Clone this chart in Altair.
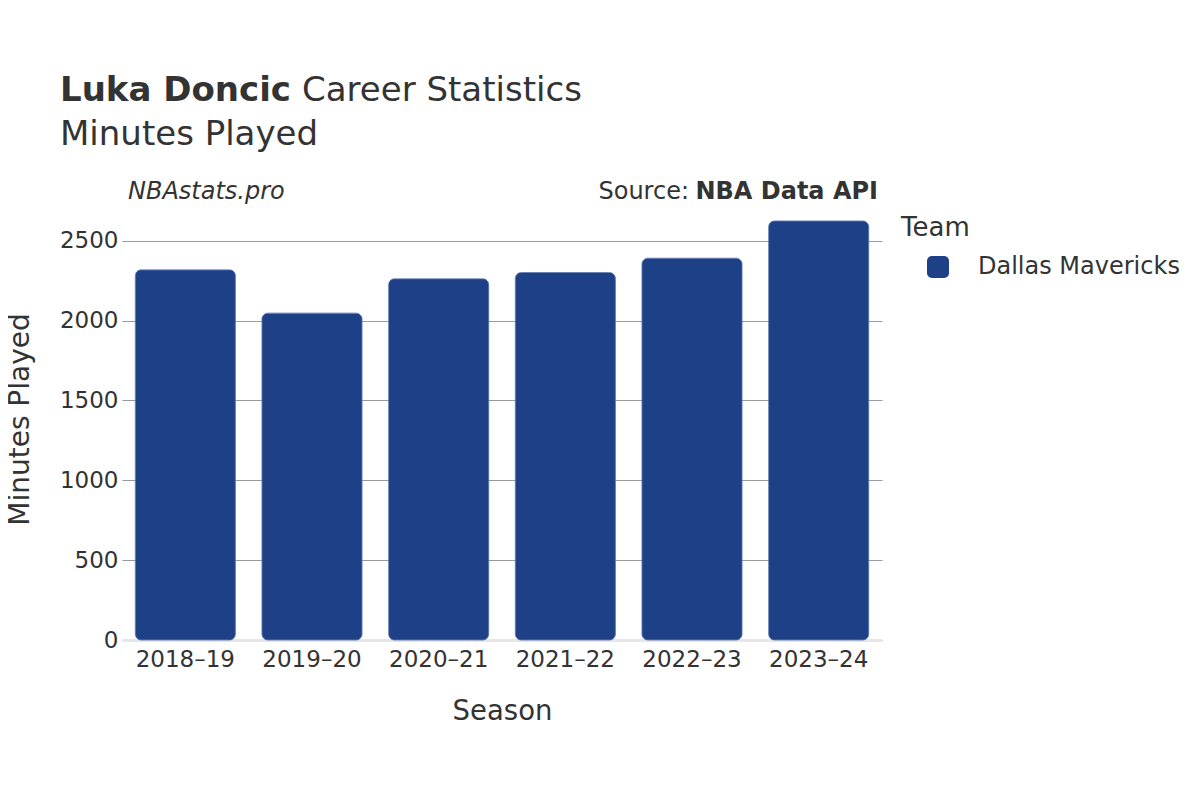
import altair as alt
import pandas as pd

seasons = ["2018–19", "2019–20", "2020–21", "2021–22", "2022–23", "2023–24"]
minutes = [2318, 2047, 2262, 2301, 2391, 2624]
teams = ["Dallas Mavericks"] * 6
team_domain = ["Dallas Mavericks"]
team_colors = ["#1d4087"]

df = pd.DataFrame({"Season": seasons, "Minutes": minutes, "Team": teams})

FONT = "DejaVu Sans"
TXT = "#333333"
W, H = 760, 442
YMAX = 2768

rounded = ("M -0.55,-1 L 0.55,-1 A 0.45 0.45 0 0 1 1,-0.55 L 1,0.55 "
           "A 0.45 0.45 0 0 1 0.55,1 L -0.55,1 A 0.45 0.45 0 0 1 -1,0.55 "
           "L -1,-0.55 A 0.45 0.45 0 0 1 -0.55,-1 Z")

bars = alt.Chart(df).mark_bar(
    cornerRadius=6, stroke="#4d6aa6", strokeWidth=0.8
).encode(
    x=alt.X("Season:N", sort=seasons,
            scale=alt.Scale(paddingInner=0.21, paddingOuter=0.105),
            axis=alt.Axis(title="Season", labelAngle=0, labelFontSize=23,
                          labelColor=TXT, labelFont=FONT, labelPadding=8,
                          ticks=False, domain=True, domainColor="#e6e6e6",
                          domainWidth=3, titleFontSize=27.5, titleColor=TXT,
                          titleFont=FONT, titleFontWeight="normal",
                          titlePadding=26)),
    y=alt.Y("Minutes:Q",
            scale=alt.Scale(domain=[0, YMAX], nice=False),
            axis=alt.Axis(title="Minutes Played", values=[0, 500, 1000, 1500, 2000, 2500],
                          format="d",
                          labelFontSize=23, labelColor=TXT, labelFont=FONT,
                          labelPadding=4, ticks=False, domain=False,
                          grid=True, gridColor="#9a9a9a", gridWidth=1,
                          titleFontSize=28, titleColor=TXT, titleFont=FONT,
                          titleFontWeight="normal", titlePadding=25)),
    color=alt.Color("Team:N",
                    scale=alt.Scale(domain=team_domain, range=team_colors),
                    legend=alt.Legend(orient="none", legendX=779, legendY=17,
                                      title="Team", titleFontSize=26,
                                      titleColor=TXT, titleFont=FONT,
                                      titleFontWeight="normal", titlePadding=14,
                                      labelFontSize=24, labelColor=TXT,
                                      labelFont=FONT, labelLimit=400,
                                      symbolType=rounded,
                                      symbolSize=484, symbolOffset=25,
                                      labelOffset=28, symbolStrokeWidth=0,
                                      padding=0)),
)

def txt(s, x, y, size, weight="normal", style="normal", align="left"):
    return alt.Chart(pd.DataFrame({"t": [s]})).mark_text(
        font=FONT, fontSize=size, fontWeight=weight, fontStyle=style,
        align=align, baseline="alphabetic", color=TXT
    ).encode(text="t:N", x=alt.value(x), y=alt.value(y))

ox, oy = 122, 198
texts = [
    txt("Luka Doncic", 60 - ox, 101 - oy, 34, weight="bold"),
    txt("Career Statistics", 302 - ox, 101 - oy, 34),
    txt("Minutes Played", 60 - ox, 145 - oy, 34),
    txt("NBAstats.pro", 128 - ox, 199 - oy, 24, style="italic"),
    txt("NBA Data API", 878 - ox, 199 - oy, 24, weight="bold", align="right"),
    txt("Source:", 689 - ox, 199 - oy, 24, align="right"),
]

chart = alt.layer(bars, *texts).properties(
    width=W, height=H,
    background="white",
    autosize=alt.AutoSizeParams(type="none"),
    padding={"left": 114, "top": 190, "right": 310, "bottom": 144},
).configure_view(stroke=None, strokeWidth=0)

chart.save("out.html", embed_options={"renderer": "svg", "actions": False})
